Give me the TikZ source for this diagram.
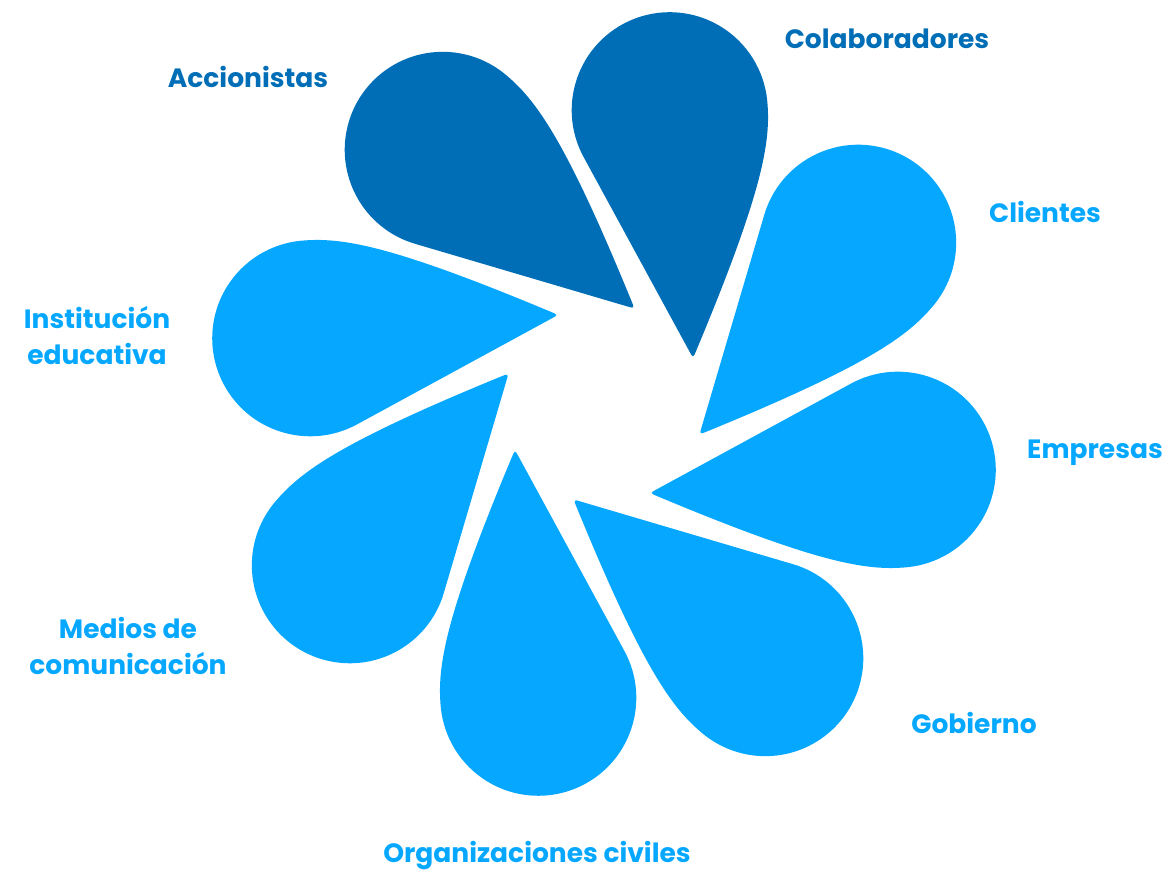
\documentclass[tikz,border=0pt]{standalone}
\usepackage{fontspec}
\setmainfont{Poppins}
\usetikzlibrary{calc}
\definecolor{hondo}{RGB}{0,110,182}
\definecolor{cielo}{RGB}{6,168,255}
% teardrop: round head at the origin, tip 249 below, bent side on the right
\def\petal[#1](#2:#3){\fill[#1, shift={(#2:#3)}, rotate=#2-72] (-90.1,-38.4) arc[start angle=203.1, end angle=0, radius=98] .. controls (98,-40) and (86,-88) .. (4,-241.5) .. controls (0,-249) .. (-3,-242) -- cycle;}

\begin{document}
\begin{tikzpicture}[x=1pt, y=1pt, every node/.style={font=\fontsize{26.5}{36}\selectfont\bfseries, align=center, anchor=base}]
		%%%%% START %%%%%
		\useasboundingbox (0, 0) rectangle (1170, 874);
		
		\begin{scope}[shift={(604, 470)}]
			\petal[hondo](77.4:301)
			\petal[cielo](32.4:301)
			\petal[cielo](-12.6:301)
			\petal[cielo](-57.6:301)
			\petal[cielo](-102.6:301)
			\petal[cielo](-147.6:301)
			\petal[cielo](167.4:301)
			\petal[hondo](122.4:301)
		\end{scope}
		
		\node[color=hondo] (accionistas) at (248, 786) {Accionistas};
		\node[color=hondo] (colaboradores) at (887, 825) {Colaboradores};
		\node[color=cielo] (clientes) at (1045, 651) {Clientes};
		\node[color=cielo] (empresas) at (1095, 415) {Empresas};
		\node[color=cielo] (gobierno) at (974, 140) {Gobierno};
		\node[color=cielo] (organizaciones) at (537, 11) {Organizaciones civiles};
		\node[color=cielo, anchor=center] (medios) at (128, 228) {Medios de\\comunicación};
		\node[color=cielo, anchor=center] (institucion) at (97, 538) {Institución\\educativa};
		
		%%%%% END %%%%%
\end{tikzpicture}
\end{document}
